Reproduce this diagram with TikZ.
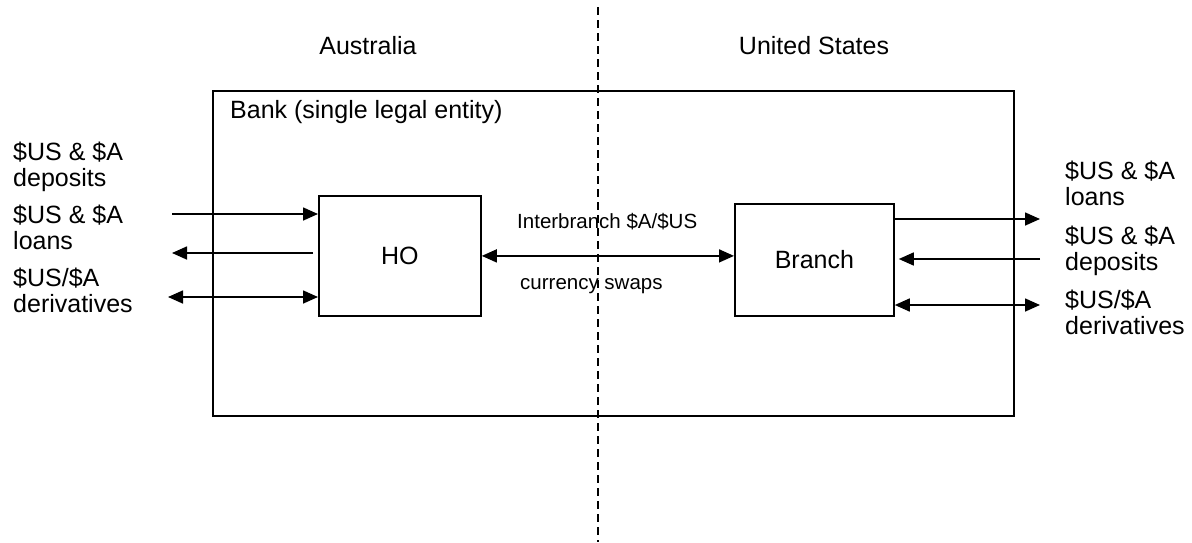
\documentclass[tikz,border=0pt]{standalone}
\usepackage{fontspec}
\setmainfont{Liberation Sans}
\usetikzlibrary{arrows.meta}

\tikzset{
  big/.style={font=\fontsize{25}{26}\selectfont},
  small/.style={font=\fontsize{20.5}{22}\selectfont},
  boxnode/.style={draw, line width=1.8pt, anchor=north west, inner sep=0pt},
  lbl/.style={big, anchor=base west, align=left, inner sep=0pt},
  arr/.style={line width=1.6pt, -{Triangle[length=15pt,width=13pt]}},
  dbl/.style={line width=1.6pt, {Triangle[length=15pt,width=13pt]}-{Triangle[length=15pt,width=13pt]}},
  border/.style={line width=1.3pt, dash pattern=on 8pt off 5pt}
}

\begin{document}
\begin{tikzpicture}[x=1pt, y=-1pt]
  \useasboundingbox (0,0) rectangle (1192,542);

  % the bank as a whole
  \node[boxnode, minimum width=801pt, minimum height=325pt] (bank) at (212,90) {};
  \node[big, anchor=base west, inner sep=0pt] (banklbl) at (230,118) {Bank (single legal entity)};

  % head office and branch
  \node[boxnode, big, minimum width=162pt, minimum height=120pt] (ho) at (318,195) {};
  \node[big] (holbl) at (ho.center) {HO};
  \node[boxnode, big, minimum width=159pt, minimum height=112pt] (br) at (734,203) {};
  \node[big] (brlbl) at (br.center) {Branch};

  % country border
  \coordinate (btop) at (598,7);
  \coordinate (bbot) at (598,542);
  \draw[border] (btop) -- (bbot);

  % country headings
  \node[big, anchor=base, inner sep=0pt] (aus) at (368,54) {Australia};
  \node[big, anchor=base, inner sep=0pt] (usa) at (814,54) {United States};

  % interbranch swaps
  \draw[dbl] (ho.east) -- (ho.east -| br.west);
  \node[small, anchor=base west, inner sep=0pt] (ib1) at (517,228) {Interbranch \$A/\$US};
  \node[small, anchor=base west, inner sep=0pt] (ib2) at (520,289) {currency swaps};

  % Australian side flows
  \coordinate (aDep) at (172,214);
  \coordinate (aLoan) at (172,253);
  \coordinate (aDer) at (168,297);
  \draw[arr] (aDep) -- (aDep -| ho.west);
  \draw[arr, shorten <=5pt] (aLoan -| ho.west) -- (aLoan);
  \draw[dbl] (aDer) -- (aDer -| ho.west);

  \node[lbl] (l1) at (13,186) {\$US \& \$A\\deposits};
  \node[lbl] (l2) at (13,249) {\$US \& \$A\\loans};
  \node[lbl] (l3) at (13,312) {\$US/\$A\\derivatives};

  % United States side flows
  \coordinate (uLoan) at (1040,219);
  \coordinate (uDep) at (1040,259);
  \coordinate (uDer) at (1040,305);
  \draw[arr] (uLoan -| br.east) -- (uLoan);
  \draw[arr, shorten >=4pt] (uDep) -- (uDep -| br.east);
  \draw[dbl] (uDer -| br.east) -- (uDer);

  \node[lbl] (r1) at (1065,205) {\$US \& \$A\\loans};
  \node[lbl] (r2) at (1065,270) {\$US \& \$A\\deposits};
  \node[lbl] (r3) at (1065,334) {\$US/\$A\\derivatives};
\end{tikzpicture}
\end{document}
